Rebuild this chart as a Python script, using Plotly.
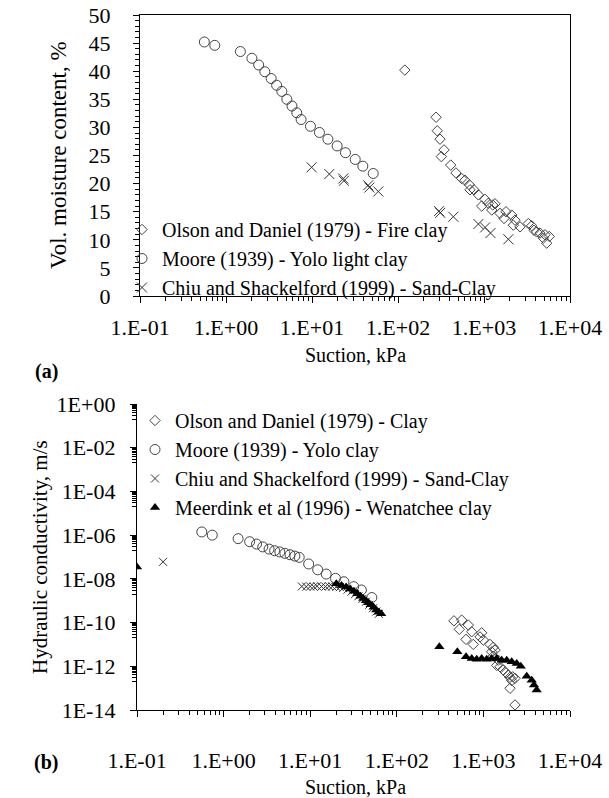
import plotly.graph_objects as go

# ---------------- data: (a) volumetric moisture content ----------------
olson_a_suction = [120, 277, 286, 308, 343, 319, 410, 472, 551, 601, 675, 688, 765, 859, 940,
                   1028, 1122, 1262, 1343, 1230, 1535, 1802, 1709, 2100, 2293, 2193, 2624, 3275,
                   3587, 3812, 4100, 4480, 5120, 5740, 4895, 5360]
olson_a_theta = [40.2, 31.8, 29.4, 27.9, 26.0, 24.8, 23.3, 21.9, 20.9, 20.6, 19.8, 18.9, 18.9, 18.0,
                 16.0, 17.2, 16.5, 16.2, 16.4, 15.3, 14.7, 15.0, 13.8, 14.4, 13.5, 12.6, 12.3, 12.9,
                 12.5, 11.7, 11.4, 11.2, 10.9, 10.6, 10.3, 9.4]

moore_suction = [0.56, 0.74, 1.47, 2.0, 2.4, 2.83, 3.35, 3.88, 4.46, 5.1, 5.85, 6.65, 7.47, 9.6,
                 12.2, 15.3, 19.6, 24.5, 31.8, 39, 51.5]
moore_theta = [45.2, 44.6, 43.5, 42.3, 41.1, 39.9, 38.7, 37.5, 36.4, 35.0, 33.8, 32.6, 31.4, 30.2,
               29.1, 27.9, 26.7, 25.5, 24.3, 23.1, 21.8]

chiu_a_suction = [9.9, 15.9, 23.1, 23.5, 45, 46.5, 59, 300, 310, 440, 860, 1030, 1190, 1920]
chiu_a_theta = [22.9, 21.7, 20.9, 20.5, 19.7, 19.3, 18.6, 15.1, 14.8, 14.1, 12.8, 12.2, 11.2, 10.1]

# ---------------- data: (b) hydraulic conductivity ----------------
olson_b_suction = [457, 561, 670, 527, 733, 630, 764, 955, 998, 914, 1191, 1300, 1361, 1247, 1300,
                   1486, 1425, 1555, 1698, 1824, 1940, 2029, 2180, 2317, 2123, 2029, 2317]
olson_b_k = [1.2e-10, 1.3e-10, 7.7e-11, 4.9e-11, 3.8e-11, 1.7e-11, 1.0e-11, 3.4e-11, 1.6e-11,
             2.2e-11, 1.0e-11, 7.4e-12, 5.5e-12, 4.6e-12, 2.9e-12, 1.9e-12, 1.1e-12, 9.5e-13,
             6.7e-13, 5.0e-13, 4.0e-13, 3.1e-13, 3.3e-13, 2.8e-13, 2.2e-13, 9.8e-14, 1.7e-14]

moore_k = [1.4e-6, 1.0e-6, 6.9e-7, 5.0e-7, 3.9e-7, 2.9e-7, 2.3e-7, 1.94e-7, 1.7e-7, 1.47e-7,
           1.27e-7, 1.1e-7, 9.6e-8, 4.8e-8, 2.6e-8, 1.66e-8, 1.05e-8, 7.4e-9, 4.4e-9, 3.1e-9, 1.4e-9]

chiu_b_suction = [0.2, 8, 9, 10, 11, 12, 13.5, 15, 16.5, 18, 20, 22, 24, 27, 30, 33, 36, 40, 44,
                  48, 53, 58, 62]
chiu_b_k = [6e-8, 4.5e-9, 4.4e-9, 4.5e-9, 4.4e-9, 4.6e-9, 4.5e-9, 4.4e-9, 4.6e-9, 4.5e-9, 4.3e-9,
            4.2e-9, 3.8e-9, 3.2e-9, 2.6e-9, 2.0e-9, 1.6e-9, 1.2e-9, 9e-10, 6.5e-10, 4.5e-10,
            3.2e-10, 2.5e-10]

meer_suction = [0.1, 20, 23, 26, 29, 32, 35, 38, 41, 44, 47, 50, 54, 58, 62, 66,
                310, 500, 630, 733, 837, 955, 1091, 1247, 1425, 1627, 1858, 2123, 2423, 2698,
                3162, 3612, 3840, 4125]
meer_k = [3.5e-8, 6.0e-9, 5.0e-9, 4.2e-9, 3.4e-9, 2.7e-9, 2.1e-9, 1.6e-9, 1.25e-9, 1.0e-9,
          8.0e-10, 6.5e-10, 5.0e-10, 3.8e-10, 3.0e-10, 2.5e-10,
          7.8e-12, 4.6e-12, 2.7e-12, 2.3e-12, 2.1e-12, 2.3e-12, 2.1e-12, 2.3e-12, 2.3e-12,
          1.9e-12, 1.9e-12, 1.6e-12, 1.35e-12, 1.0e-12, 3.5e-13, 2.3e-13, 1.4e-13, 8.2e-14]

# ---------------- tick labels ----------------
x_tickvals = [0.1, 1, 10, 100, 1000, 10000]
x_ticktext = ["1.E-01", "1.E+00", "1.E+01", "1.E+02", "1.E+03", "1.E+04"]
y_b_tickvals = [1, 1e-2, 1e-4, 1e-6, 1e-8, 1e-10, 1e-12, 1e-14]
y_b_ticktext = ["1E+00", "1E-02", "1E-04", "1E-06", "1E-08", "1E-10", "1E-12", "1E-14"]
x_minor = [k * 10 ** e for e in range(-1, 4) for k in range(2, 10)]
y_b_minor = [k * 10.0 ** e for e in range(-13, 0, 2) for k in range(2, 10)]

FONT = "Liberation Serif"
W, H = 609, 798


def px(x):
    return x / W


def py(y):
    return 1 - y / H


fig = go.Figure()

# (a)
fig.add_trace(go.Scatter(x=olson_a_suction, y=olson_a_theta, mode="markers",
                         name="Olson and Daniel (1979) - Fire clay", xaxis="x", yaxis="y",
                         marker=dict(symbol="diamond-open", size=8, color="#444444",
                                     line=dict(width=1)), legend="legend"))
fig.add_trace(go.Scatter(x=moore_suction, y=moore_theta, mode="markers",
                         name="Moore (1939) - Yolo light clay", xaxis="x", yaxis="y",
                         marker=dict(symbol="circle-open", size=10, color="#444444",
                                     line=dict(width=1)), legend="legend"))
fig.add_trace(go.Scatter(x=chiu_a_suction, y=chiu_a_theta, mode="markers",
                         name="Chiu and Shackelford (1999) - Sand-Clay", xaxis="x", yaxis="y",
                         marker=dict(symbol="x-thin-open", size=10, color="#333333",
                                     line=dict(width=1)), legend="legend"))

# (b)
fig.add_trace(go.Scatter(x=olson_b_suction, y=olson_b_k, mode="markers",
                         name="Olson and Daniel (1979) - Clay", xaxis="x2", yaxis="y2",
                         marker=dict(symbol="diamond-open", size=8, color="#444444",
                                     line=dict(width=1)), legend="legend2"))
fig.add_trace(go.Scatter(x=moore_suction, y=moore_k, mode="markers",
                         name="Moore (1939) - Yolo clay", xaxis="x2", yaxis="y2",
                         marker=dict(symbol="circle-open", size=10, color="#444444",
                                     line=dict(width=1)), legend="legend2"))
fig.add_trace(go.Scatter(x=chiu_b_suction, y=chiu_b_k, mode="markers",
                         name="Chiu and Shackelford (1999) - Sand-Clay", xaxis="x2", yaxis="y2",
                         marker=dict(symbol="x-thin-open", size=8, color="#333333",
                                     line=dict(width=1)), legend="legend2"))
fig.add_trace(go.Scatter(x=meer_suction, y=meer_k, mode="markers",
                         name="Meerdink et al (1996) - Wenatchee clay", xaxis="x2", yaxis="y2",
                         marker=dict(symbol="triangle-up", size=9, color="black"),
                         legend="legend2"))

axis_common = dict(showline=True, linecolor="black", linewidth=1.3, showgrid=False,
                   zeroline=False, ticks="outside", tickcolor="black", automargin=False,
                   tickfont=dict(family=FONT, size=22, color="black"))

fig.update_layout(
    width=W, height=H, margin=dict(l=0, r=0, t=0, b=0, autoexpand=False),
    paper_bgcolor="white", plot_bgcolor="white",
    font=dict(family=FONT, size=20, color="black"),
    xaxis=dict(**axis_common, type="log", range=[-1, 4], domain=[px(140), px(570)],
               anchor="y", mirror=True, tickvals=x_tickvals, ticktext=x_ticktext,
               ticklen=6, ticklabelstandoff=5,
               minor=dict(tickvals=x_minor, ticks="outside", ticklen=4, tickcolor="black")),
    yaxis=dict(**axis_common, range=[0, 50], domain=[py(296), py(15)], anchor="x",
               mirror=True, dtick=5, ticklen=6, ticklabelstandoff=18,
               minor=dict(dtick=1, ticks="outside", ticklen=4, tickcolor="black")),
    xaxis2=dict(**axis_common, type="log", range=[-1, 4], domain=[px(137), px(570)],
                anchor="y2", tickvals=x_tickvals, ticktext=x_ticktext, ticklen=6,
                ticklabelstandoff=24,
                minor=dict(tickvals=x_minor, ticks="outside", ticklen=4, tickcolor="black")),
    yaxis2=dict(**axis_common, type="log", range=[-14, 0], domain=[py(710), py(404)],
                anchor="x2", tickvals=y_b_tickvals, ticktext=y_b_ticktext, ticklen=6,
                ticklabelstandoff=10,
                minor=dict(tickvals=y_b_minor, ticks="outside", ticklen=4, tickcolor="black")),
    legend=dict(x=px(122), y=py(210), xanchor="left", yanchor="top", bgcolor="rgba(0,0,0,0)",
                font=dict(family=FONT, size=20, color="black"), tracegroupgap=0),
    legend2=dict(x=px(135), y=py(401), xanchor="left", yanchor="top", bgcolor="rgba(0,0,0,0)",
                 font=dict(family=FONT, size=20, color="black"), tracegroupgap=0),
    showlegend=True,
)

ann = [
    dict(text="Vol. moisture content, %", x=px(58), y=py(155), textangle=-90, size=23),
    dict(text="Suction, kPa", x=px(355), y=py(355), size=20),
    dict(text="<b>(a)</b>", x=px(46), y=py(371), size=20),
    dict(text="Hydraulic conductivity, m/s", x=px(40), y=py(557), textangle=-90, size=21),
    dict(text="Suction, kPa", x=px(355), y=py(787), size=20),
    dict(text="<b>(b)</b>", x=px(46), y=py(762), size=20),
]
for a in ann:
    s = a.pop("size")
    fig.add_annotation(xref="paper", yref="paper", showarrow=False,
                       xanchor="center", yanchor="middle",
                       font=dict(family=FONT, size=s, color="black"), **a)

fig.write_html("out.html")
